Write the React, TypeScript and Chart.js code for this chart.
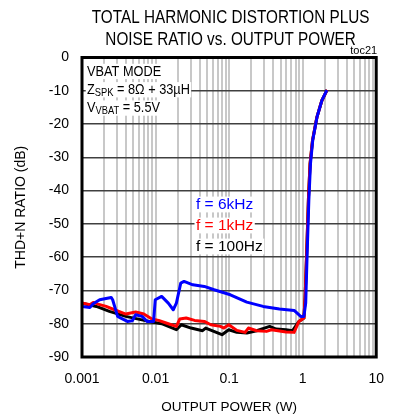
import { useEffect, useRef } from "react";
import { Chart, registerables } from "chart.js";

Chart.register(...registerables);

const FONT = "'Liberation Sans', Arial, sans-serif";
const NARROW = 0.85;

const TITLE_LINES = ["TOTAL HARMONIC DISTORTION PLUS", "NOISE RATIO vs. OUTPUT POWER"];
const X_TITLE = "OUTPUT POWER (W)";
const Y_TITLE = "THD+N RATIO (dB)";
const FIG_ID = "toc21";

const X_DECADES = [0.001, 0.01, 0.1, 1, 10];
const X_TICK_LABELS = ["0.001", "0.01", "0.1", "1", "10"];
const X_MINOR = [1, 2, 3, 4, 5, 6, 7, 8, 9];
const Y_MIN = -90;
const Y_MAX = 0;
const Y_STEP = 10;

const SERIES_LABELS = ["f = 6kHz", "f = 1kHz", "f = 100Hz"];
const SERIES_COLORS = ["#0000ff", "#ff0000", "#000000"];

// f = 6kHz
const P_6K = [0.001, 0.00128, 0.00142, 0.00174, 0.00249, 0.00261, 0.00305, 0.00338, 0.00414, 0.00483, 0.00536, 0.00656, 0.00766, 0.0094, 0.0099, 0.0121, 0.0149, 0.0174, 0.0192, 0.022, 0.0244, 0.0321, 0.046, 0.0626, 0.104, 0.174, 0.29, 0.483, 0.766, 0.94, 1.04, 1.1, 1.155, 1.214, 1.279, 1.372, 1.571, 1.832, 2.135];
const THD_6K = [-74.8, -75.1, -74.0, -72.8, -72.1, -72.8, -77.8, -78.3, -79.3, -79.1, -77.3, -77.8, -79.3, -79.3, -72.8, -71.8, -73.8, -75.8, -73.8, -67.8, -67.3, -68.3, -68.8, -69.8, -71.3, -73.5, -74.8, -75.6, -76.0, -77.8, -77.8, -73.8, -57.8, -42.8, -31.8, -24.8, -17.8, -12.8, -9.8];

// f = 1kHz
const P_1K = [0.001, 0.00128, 0.00142, 0.00165, 0.00213, 0.00276, 0.00394, 0.00536, 0.00692, 0.00893, 0.011, 0.0149, 0.0192, 0.0213, 0.0261, 0.0339, 0.046, 0.0564, 0.0763, 0.0849, 0.0989, 0.1276, 0.165, 0.183, 0.237, 0.322, 0.375, 0.461, 0.594, 0.764, 0.89, 1.04, 1.08, 1.14, 1.2, 1.26, 1.36, 1.56, 1.82, 2.15];
const THD_1K = [-73.8, -74.3, -73.6, -74.1, -74.8, -75.8, -77.1, -76.5, -77.1, -78.6, -79.0, -80.0, -80.8, -78.6, -78.3, -79.0, -79.3, -80.3, -80.8, -81.3, -80.3, -82.0, -82.6, -81.3, -82.1, -82.3, -81.8, -82.1, -82.5, -82.6, -79.3, -78.3, -72, -57, -42, -32, -25, -18, -13, -9.7];

// f = 100Hz
const P_100 = [0.001, 0.00157, 0.00236, 0.00394, 0.0081, 0.0121, 0.0192, 0.0224, 0.0304, 0.0435, 0.0481, 0.08, 0.0989, 0.1276, 0.174, 0.237, 0.356, 0.4365, 0.594, 0.73, 0.89, 1.04, 1.08, 1.14, 1.2, 1.26, 1.36, 1.56, 1.82, 2.15];
const THD_100 = [-73.8, -74.8, -76.3, -77.8, -79.3, -80.0, -81.8, -80.3, -81.3, -82.1, -81.3, -83.3, -81.8, -82.6, -82.8, -82.1, -80.8, -81.6, -81.8, -82.1, -79.3, -78.3, -72, -57, -42, -32, -25, -18, -13, -9.7];

type Run = { text: string; sub?: boolean };
const NOTE_LINES: Run[][] = [
  [{ text: "VBAT MODE" }],
  [{ text: "Z" }, { text: "SPK", sub: true }, { text: " = 8Ω + 33µH" }],
  [{ text: "V" }, { text: "VBAT", sub: true }, { text: " = 5.5V" }],
];

const toPoints = (xs: number[], ys: number[]) => xs.map((x, i) => ({ x, y: ys[i] }));

function drawRuns(
  ctx: CanvasRenderingContext2D,
  x: number,
  base: number,
  runs: Run[],
  color: string,
  size: number,
  squeeze: number
) {
  const main = `${size}px ${FONT}`;
  const small = `${Math.round(size * 0.72)}px ${FONT}`;
  let w = 0;
  for (const r of runs) {
    ctx.font = r.sub ? small : main;
    w += ctx.measureText(r.text).width;
  }
  ctx.save();
  ctx.translate(x, base);
  ctx.scale(squeeze, 1);
  ctx.fillStyle = "#fff";
  ctx.fillRect(-1.5, -size * 0.8, w + 3, size * 1.02);
  let cx = 0;
  ctx.fillStyle = color;
  ctx.textBaseline = "alphabetic";
  ctx.textAlign = "left";
  for (const r of runs) {
    ctx.font = r.sub ? small : main;
    ctx.fillText(r.text, cx, r.sub ? 2 : 0);
    cx += ctx.measureText(r.text).width;
  }
  ctx.restore();
}

const overlay = {
  id: "overlay",
  afterDatasetsDraw(chart: any) {
    const { ctx, chartArea: a } = chart;
    ctx.save();
    // title
    const cx = (a.left + a.right) / 2;
    ctx.font = `18px ${FONT}`;
    ctx.fillStyle = "#000";
    ctx.textAlign = "center";
    ctx.textBaseline = "alphabetic";
    TITLE_LINES.forEach((line, i) => {
      const w = ctx.measureText(line).width * NARROW;
      ctx.fillText(line, cx + 1.5, 23 + i * 22.4, w);
    });
    // notes
    NOTE_LINES.forEach((runs, i) => drawRuns(ctx, a.left + 5, a.top + 18.3 + i * 18.3, runs, "#000", 15, NARROW));
    // series labels
    SERIES_LABELS.forEach((lab, i) =>
      drawRuns(ctx, a.left + 114, a.top + 151.5 + i * 21, [{ text: lab }], SERIES_COLORS[i], 15.5, 1)
    );
    // frame
    ctx.strokeStyle = "#000";
    ctx.lineWidth = 3;
    ctx.strokeRect(a.left, a.top, a.right - a.left, a.bottom - a.top);
    // figure id
    ctx.font = `11px ${FONT}`;
    ctx.fillStyle = "#000";
    ctx.textAlign = "right";
    ctx.textBaseline = "alphabetic";
    ctx.fillText(FIG_ID, a.right + 1, a.top - 4);
    ctx.restore();
  },
};

export default function App() {
  const ref = useRef<HTMLCanvasElement>(null);
  useEffect(() => {
    if (!ref.current) return;
    const tickValues: number[] = [];
    X_DECADES.forEach((d, i) => {
      if (i === X_DECADES.length - 1) tickValues.push(d);
      else X_MINOR.forEach((m) => tickValues.push(+(d * m).toPrecision(3)));
    });
    const chart = new Chart(ref.current, {
      type: "line",
      data: {
        datasets: [
          { label: SERIES_LABELS[0], data: toPoints(P_6K, THD_6K), borderColor: SERIES_COLORS[0] },
          { label: SERIES_LABELS[1], data: toPoints(P_1K, THD_1K), borderColor: SERIES_COLORS[1] },
          { label: SERIES_LABELS[2], data: toPoints(P_100, THD_100), borderColor: SERIES_COLORS[2] },
        ].map((d) => ({ ...d, borderWidth: 3, pointRadius: 0, tension: 0, fill: false, borderJoinStyle: "round" as const })),
      },
      options: {
        animation: false,
        responsive: true,
        maintainAspectRatio: false,
        layout: { padding: { left: 0, right: 16, top: 57.5, bottom: 0 } },
        plugins: {
          legend: { display: false },
          tooltip: { enabled: false },
          title: { display: false },
        },
        scales: {
          x: {
            type: "logarithmic",
            min: X_DECADES[0],
            max: X_DECADES[X_DECADES.length - 1],
            afterBuildTicks: (s: any) => {
              s.ticks = tickValues.map((v) => ({ value: v }));
            },
            afterFit: (s: any) => {
              s.height = 58;
            },
            ticks: {
              autoSkip: false,
              maxRotation: 0,
              minRotation: 0,
              padding: 14,
              color: "#000",
              font: { family: FONT, size: 14 },
              callback: (v: any) => {
                const i = X_DECADES.findIndex((d) => Math.abs(d - Number(v)) < d * 1e-6);
                return i >= 0 ? X_TICK_LABELS[i] : "";
              },
            },
            grid: { color: "#c8c8c8", lineWidth: 2, drawTicks: false },
            border: { display: false },
            title: {
              display: true,
              text: X_TITLE,
              color: "#000",
              font: { family: FONT, size: 13.5 },
              padding: { top: 0, bottom: 0 },
            },
          },
          y: {
            type: "linear",
            min: Y_MIN,
            max: Y_MAX,
            afterFit: (s: any) => {
              s.width = 82;
            },
            ticks: {
              stepSize: Y_STEP,
              padding: 13,
              color: "#000",
              font: { family: FONT, size: 14 },
            },
            grid: { color: "#404040", lineWidth: 1.5, drawTicks: false },
            border: { display: false },
            title: {
              display: true,
              text: Y_TITLE,
              color: "#000",
              font: { family: FONT, size: 14 },
              padding: { top: 12.5, bottom: 0 },
            },
          },
        },
      },
      plugins: [overlay],
    });
    return () => chart.destroy();
  }, []);
  return (
    <div style={{ position: "absolute", left: 0, top: 0, width: 398, height: 415, background: "#fff" }}>
      <canvas ref={ref} />
    </div>
  );
}
